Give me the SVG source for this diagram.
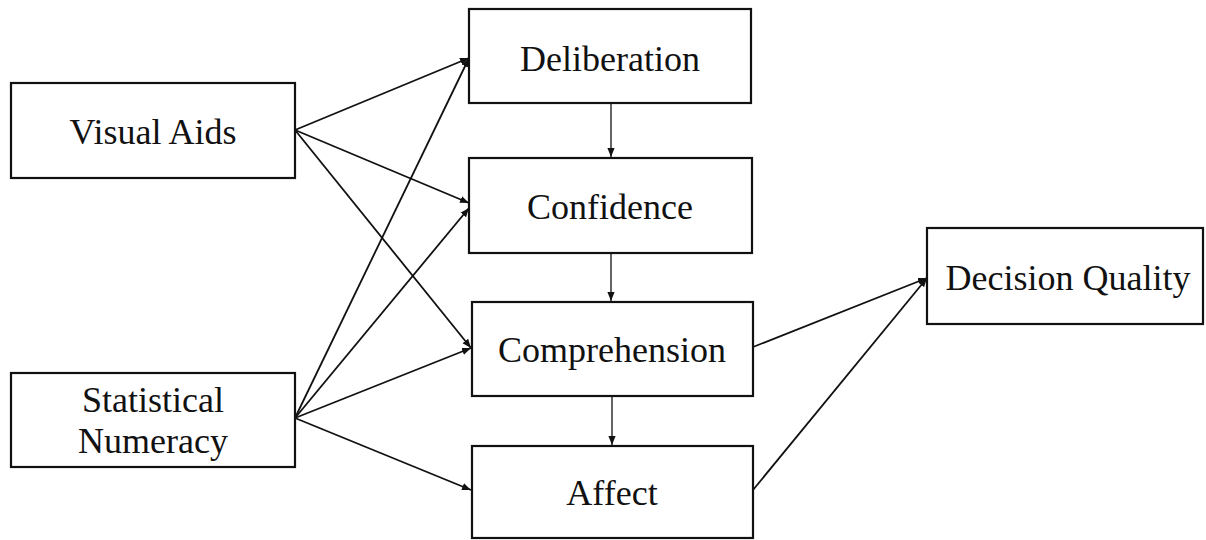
<svg xmlns="http://www.w3.org/2000/svg" width="1206" height="540" viewBox="0 0 1206 540">
<style>
.box{fill:#fff;stroke:#111;stroke-width:2.2}
.lbl{font-family:"Liberation Serif","Times New Roman",serif;font-size:36px;fill:#111;text-anchor:middle}
.c{stroke:#111;stroke-width:1.8;fill:none;marker-end:url(#ah)}
.v{stroke:#111;stroke-width:1.3;fill:none;marker-end:url(#ah)}
</style>
<defs>
<marker id="ah" viewBox="0 0 10 10" refX="10" refY="5" markerWidth="9" markerHeight="9" markerUnits="userSpaceOnUse" orient="auto">
<path d="M0,1 L10,5 L0,9 Z" fill="#111"/>
</marker>
</defs>
<rect width="1206" height="540" fill="#fff"/>
<g id="connectors">
<line class="c" x1="295" y1="130" x2="469" y2="58"/>
<line class="c" x1="295" y1="130" x2="469" y2="203"/>
<line class="c" x1="295" y1="130" x2="471" y2="348"/>
<line class="c" x1="295" y1="418" x2="469" y2="58"/>
<line class="c" x1="295" y1="418" x2="469" y2="208"/>
<line class="c" x1="295" y1="418" x2="471" y2="348"/>
<line class="c" x1="295" y1="418" x2="471" y2="490"/>
<line class="v" x1="611" y1="103" x2="611" y2="157"/>
<line class="v" x1="611" y1="253" x2="611" y2="301"/>
<line class="v" x1="612" y1="396" x2="612" y2="445"/>
<line class="c" x1="753" y1="347" x2="927" y2="278"/>
<line class="c" x1="753" y1="490" x2="927" y2="278"/>
</g>
<g id="visual-aids">
<rect class="box" x="11" y="83" width="284" height="95"/>
<text class="lbl" x="153" y="144">Visual Aids</text>
</g>
<g id="statistical-numeracy">
<rect class="box" x="11" y="373" width="284" height="94"/>
<text class="lbl" x="153" y="412">Statistical</text>
<text class="lbl" x="153" y="453">Numeracy</text>
</g>
<g id="deliberation">
<rect class="box" x="469" y="9" width="282" height="94"/>
<text class="lbl" x="610" y="71">Deliberation</text>
</g>
<g id="confidence">
<rect class="box" x="469" y="158" width="283" height="95"/>
<text class="lbl" x="610" y="219">Confidence</text>
</g>
<g id="comprehension">
<rect class="box" x="472" y="302" width="281" height="94"/>
<text class="lbl" x="612" y="362">Comprehension</text>
</g>
<g id="affect">
<rect class="box" x="472" y="446" width="281" height="92"/>
<text class="lbl" x="612" y="505">Affect</text>
</g>
<g id="decision-quality">
<rect class="box" x="927" y="228" width="276" height="96"/>
<text class="lbl" x="1068" y="290">Decision Quality</text>
</g>
</svg>
